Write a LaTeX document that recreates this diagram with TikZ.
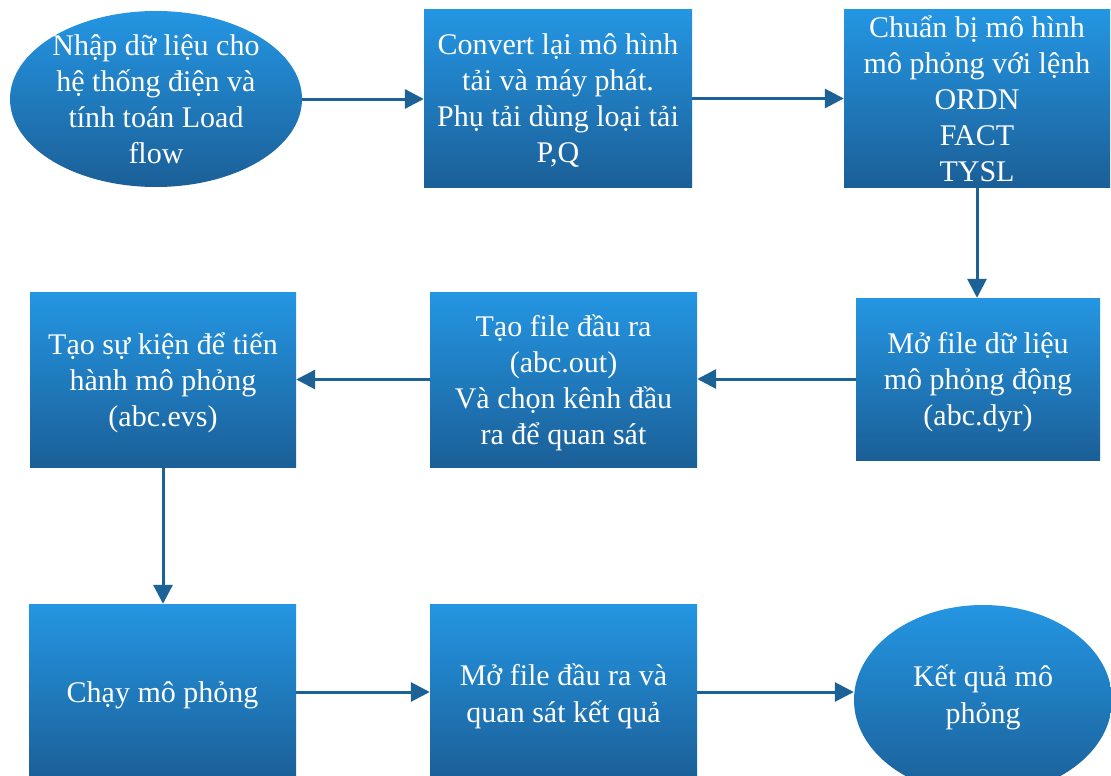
\documentclass[tikz,border=0pt]{standalone}
\usepackage{fontspec}
\setmainfont{Liberation Serif}[Ligatures=NoCommon]
\usetikzlibrary{arrows.meta,shapes.geometric}
\definecolor{topblue}{RGB}{36,150,227}
\definecolor{botblue}{RGB}{27,95,151}
\definecolor{arrowblue}{RGB}{28,98,150}
\begin{document}
\begin{tikzpicture}[x=1pt,y=-1pt,
  shade/.style={top color=topblue, bottom color=botblue, draw=none,
    inner sep=0pt},
  stepbox/.style={shade, rectangle},
  roundbox/.style={shade, ellipse},
  lbl/.style={text=white, inner sep=0pt, align=center,
    font=\fontsize{30}{36}\selectfont},
  arr/.style={draw=arrowblue, line width=3pt,
    -{Triangle[length=19pt,width=19pt]}}]
\clip (0,0) rectangle (1111,776);
\useasboundingbox (0,0) rectangle (1111,776);
\fill[white] (0,0) rectangle (1111,776);

% first row
\node[roundbox, minimum width=292pt, minimum height=176pt] (e1) at (156,99) {};
\node[stepbox, minimum width=268pt, minimum height=177pt] (b2) at (558,98.5) {};
\node[stepbox, minimum width=266pt, minimum height=177pt] (b3) at (977,98.5) {};

% second row
\node[stepbox, minimum width=244pt, minimum height=162pt] (b4) at (978,379) {};
\node[stepbox, minimum width=267pt, minimum height=175pt] (b5) at (563.5,379.5) {};
\node[stepbox, minimum width=266pt, minimum height=175pt] (b6) at (163,379.5) {};

% third row
\node[stepbox, minimum width=267pt, minimum height=176pt] (b7) at (162.5,692) {};
\node[stepbox, minimum width=267pt, minimum height=176pt] (b8) at (563.5,692) {};
\node[roundbox, minimum width=258pt, minimum height=190pt] (e9) at (983,700) {};

% texts
\node[lbl] (t1) at ([yshift=0pt]e1.center)
  {Nhập dữ liệu cho\\hệ thống điện và\\tính toán Load\\flow};
\node[lbl] (t2) at ([yshift=-2pt]b2.center)
  {Convert lại mô hình\\tải và máy phát.\\Phụ tải dùng loại tải\\P,Q};
\node[lbl] (t3) at ([yshift=0pt]b3.center)
  {Chuẩn bị mô hình\\mô phỏng với lệnh\\ORDN\\FACT\\TYSL};
\node[lbl] (t4) at ([yshift=-3.5pt]b4.center)
  {Mở file dữ liệu\\mô phỏng động\\(abc.dyr)};
\node[lbl] (t5) at ([yshift=-3pt]b5.center)
  {Tạo file đầu ra\\(abc.out)\\Và chọn kênh đầu\\ra để quan sát};
\node[lbl] (t6) at ([yshift=-3pt]b6.center)
  {Tạo sự kiện để tiến\\hành mô phỏng\\(abc.evs)};
\node[lbl] (t7) at ([yshift=-3pt]b7.center) {Chạy mô phỏng};
\node[lbl, font=\fontsize{30}{37}\selectfont] (t8) at ([yshift=-4.5pt]b8.center)
  {Mở file đầu ra và\\quan sát kết quả};
\node[lbl, font=\fontsize{30}{37}\selectfont] (t9) at (983,697)
  {Kết quả mô\\phỏng};

% connectors
\draw[arr] (e1.east) -- (e1.east -| b2.west);
\draw[arr] (b2.east) -- (b2.east -| b3.west);
\draw[arr] (b3.south) -- (b3.south |- b4.north);
\draw[arr] (b4.west) -- (b4.west -| b5.east);
\draw[arr] (b5.west) -- (b5.west -| b6.east);
\draw[arr] (b6.south) -- (b6.south |- b7.north);
\draw[arr] (b7.east) -- (b7.east -| b8.west);
\draw[arr] (b8.east) -- (b8.east -| e9.west);
\end{tikzpicture}
\end{document}
